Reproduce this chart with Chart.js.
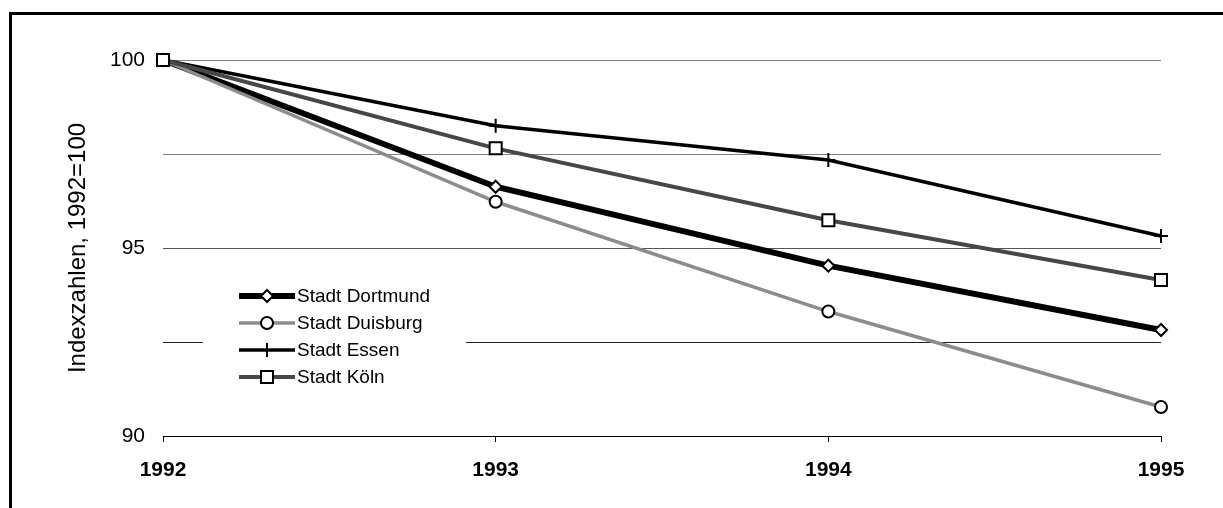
<!DOCTYPE html>
<html>
<head>
<meta charset="utf-8">
<script src="https://cdn.jsdelivr.net/npm/chart.js@4/dist/chart.umd.min.js"></script>
<style>
  html, body { margin: 0; padding: 0; background: #fff; }
  #wrap { position: relative; width: 1223px; height: 508px; }
  canvas { display: block; }
</style>
</head>
<body>
<div id="wrap"><canvas id="c" width="1223" height="508"></canvas></div>
<script>
const years = ['1992', '1993', '1994', '1995'];
const dortmund = [100, 96.63, 94.53, 92.82];
const duisburg = [100, 96.23, 93.31, 90.77];
const essen = [100, 98.25, 97.34, 95.32];
const koeln = [100, 97.65, 95.74, 94.15];
const seriesNames = ['Stadt Dortmund', 'Stadt Duisburg', 'Stadt Essen', 'Stadt Köln'];
const yTitle = 'Indexzahlen, 1992=100';

const FONT = '"Liberation Sans", Arial, sans-serif';

const framePlugin = {
  id: 'frame',
  beforeDraw(chart) {
    const ctx = chart.ctx;
    ctx.save();
    ctx.fillStyle = '#fff';
    ctx.fillRect(0, 0, chart.width, chart.height);
    ctx.fillStyle = '#000';
    ctx.fillRect(9, 12, 3, chart.height - 12);
    ctx.fillRect(9, 12, chart.width - 9, 3);
    ctx.restore();
  }
};

function marker(ctx, style, r, x, y) {
  ctx.beginPath();
  if (style === 'rect') {
    const s = Math.SQRT1_2 * r;
    ctx.rect(x - s, y - s, 2 * s, 2 * s);
    ctx.fill(); ctx.stroke();
  } else if (style === 'rectRot') {
    ctx.moveTo(x - r, y); ctx.lineTo(x, y - r); ctx.lineTo(x + r, y); ctx.lineTo(x, y + r); ctx.closePath();
    ctx.fill(); ctx.stroke();
  } else if (style === 'circle') {
    ctx.arc(x, y, r, 0, Math.PI * 2);
    ctx.fill(); ctx.stroke();
  } else if (style === 'cross') {
    ctx.moveTo(x, y - r); ctx.lineTo(x, y + r);
    ctx.moveTo(x - r, y); ctx.lineTo(x + r, y);
    ctx.stroke();
  }
}

const legendPlugin = {
  id: 'customLegend',
  afterDatasetsDraw(chart) {
    const ctx = chart.ctx;
    ctx.save();
    ctx.fillStyle = '#fff';
    ctx.fillRect(203, 283, 263, 106);
    chart.data.datasets.forEach((ds, i) => {
      const y = 296 + i * 27;
      ctx.strokeStyle = ds.borderColor;
      ctx.lineWidth = ds.borderWidth;
      ctx.lineCap = 'butt';
      ctx.beginPath(); ctx.moveTo(239, y); ctx.lineTo(295, y); ctx.stroke();
      ctx.fillStyle = ds.pointBackgroundColor;
      ctx.strokeStyle = ds.pointBorderColor;
      ctx.lineWidth = ds.pointBorderWidth;
      marker(ctx, ds.pointStyle, ds.pointRadius, 267, y);
      ctx.fillStyle = '#000';
      ctx.font = '19px ' + FONT;
      ctx.textBaseline = 'middle';
      ctx.textAlign = 'left';
      ctx.fillText(ds.label, 297, y + 1);
    });
    ctx.restore();
  }
};

const gridColors = { 100: '#808080', 97.5: '#808080', 95: '#555555', 92.5: '#222222', 90: '#000000' };

new Chart(document.getElementById('c'), {
  type: 'line',
  data: {
    labels: years,
    datasets: [
      { label: seriesNames[0], data: dortmund, borderColor: '#000', borderWidth: 6, clip: false,
        pointStyle: 'rectRot', pointRadius: 6, pointBorderWidth: 2, pointBackgroundColor: '#fff', pointBorderColor: '#000', order: 3 },
      { label: seriesNames[1], data: duisburg, borderColor: '#8c8c8c', borderWidth: 3.5, clip: false,
        pointStyle: 'circle', pointRadius: 6, pointBorderWidth: 2, pointBackgroundColor: '#fff', pointBorderColor: '#000', order: 2 },
      { label: seriesNames[2], data: essen, borderColor: '#000', borderWidth: 3.5, clip: false,
        pointStyle: 'cross', pointRadius: 7, pointBorderWidth: 2, pointBackgroundColor: '#fff', pointBorderColor: '#000', order: 1 },
      { label: seriesNames[3], data: koeln, borderColor: '#474747', borderWidth: 4, clip: false,
        pointStyle: 'rect', pointRadius: 8.5, pointBorderWidth: 2, pointBackgroundColor: '#fff', pointBorderColor: '#000', order: 0 }
    ]
  },
  options: {
    responsive: false,
    animation: false,
    devicePixelRatio: 1,
    layout: { padding: { left: 0, right: 62, top: 60, bottom: 0 } },
    plugins: { legend: { display: false }, tooltip: { enabled: false } },
    elements: { line: { tension: 0 } },
    scales: {
      x: {
        type: 'category',
        offset: false,
        grid: { drawOnChartArea: false, drawTicks: true, tickLength: 6, color: '#000' },
        border: { display: true, color: '#000', width: 1 },
        ticks: { color: '#000', padding: 16, maxRotation: 0, font: { family: FONT, size: 21, weight: 'bold' } },
        afterFit(scale) { scale.height = 72; }
      },
      y: {
        min: 90, max: 100,
        border: { display: false },
        grid: {
          drawTicks: false,
          color: (ctx) => gridColors[ctx.tick.value] || '#808080'
        },
        ticks: {
          stepSize: 2.5,
          padding: 18,
          color: '#000',
          font: { family: FONT, size: 21 },
          callback: (v) => (v % 5 === 0 ? String(v) : '')
        },
        title: {
          display: true, text: yTitle, color: '#000',
          font: { family: FONT, size: 24 },
          padding: { top: 64, bottom: 0 }
        },
        afterFit(scale) { scale.width = 163; }
      }
    }
  },
  plugins: [framePlugin, legendPlugin]
});
</script>
</body>
</html>
